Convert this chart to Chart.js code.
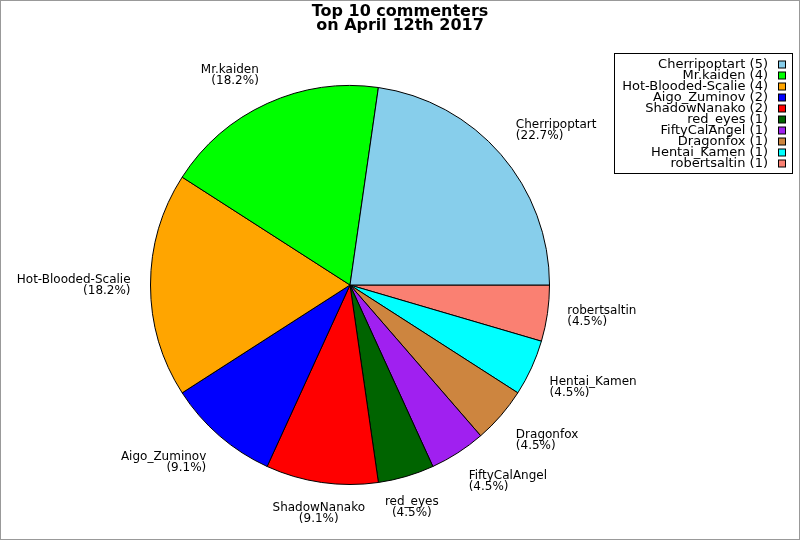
<!DOCTYPE html>
<html>
<head>
<meta charset="utf-8">
<script src="https://cdn.jsdelivr.net/npm/chart.js@4"></script>
<style>
html,body{margin:0;padding:0;background:#fff;overflow:hidden;}
canvas{display:block;}
</style>
</head>
<body>
<canvas id="pie" width="800" height="540"></canvas>
<script>
// data
const names = ["Cherripoptart","Mr.kaiden","Hot-Blooded-Scalie","Aigo_Zuminov","ShadowNanako","red_eyes","FiftyCalAngel","Dragonfox","Hentai_Kamen","robertsaltin"];
const counts = [5,4,4,2,2,1,1,1,1,1];
const colours = ["#87ceeb","#00ff00","#ffa500","#0000ff","#ff0000","#006400","#a020f0","#cd853f","#00ffff","#fa8072"];
const titleLines = ["Top 10 commenters","on April 12th 2017"];

const total = counts.reduce((a,b)=>a+b,0);

// the picture runs counter-clockwise from 3 o'clock, chart.js goes clockwise,
// so feed the slices in reverse and start at 3 o'clock
const revNames = names.slice().reverse();
const revCounts = counts.slice().reverse();
const revColours = colours.slice().reverse();

const FONT = "'DejaVu Sans', Verdana, sans-serif";

/* title, slice labels, legend box, frame */
const decor = {
id:"decor",
afterDatasetsDraw(chart){
const ctx = chart.ctx;
ctx.save();

// title
ctx.fillStyle="#000";
ctx.font="bold 16px "+FONT;
ctx.textAlign="center";
ctx.textBaseline="alphabetic";
ctx.fillText(titleLines[0],400,16);
ctx.fillText(titleLines[1],400,30);

// slice labels
ctx.font="12px "+FONT;
const meta = chart.getDatasetMeta(0);
meta.data.forEach((arc,i)=>{
const mid=(arc.startAngle+arc.endAngle)/2;
const r=arc.outerRadius*1.1;
const ax=arc.x+r*Math.cos(mid);
const ay=arc.y+r*Math.sin(mid);
const c=Math.cos(mid), s=Math.sin(mid);
ctx.textAlign = c>0.3 ? "left" : (c<-0.3 ? "right" : "center");
const lh=11;
let top;
if(s<-0.3) top=ay-2*lh;
else if(s>0.3) top=ay;
else top=ay-lh;
const pct=(revCounts[i]/total*100).toFixed(1)+"%";
ctx.textBaseline="middle";
ctx.fillText(revNames[i],ax,top+lh/2+0.5);
ctx.fillText("("+pct+")",ax,top+lh*1.5+0.5);
});

// legend
ctx.strokeStyle="#000";
ctx.lineWidth=1;
ctx.strokeRect(614.5,53.5,178,120);
ctx.font="13px "+FONT;
ctx.textAlign="right";
ctx.textBaseline="middle";
names.forEach((n,i)=>{
const y=64.5+i*11;
ctx.fillStyle="#000";
ctx.fillText(n+" ("+counts[i]+")",768,y+0.5);
ctx.fillStyle=colours[i];
ctx.fillRect(778.5,y-3.5,7,7);
ctx.strokeRect(778.5,y-3.5,7,7);
});

// frame
ctx.strokeStyle="#999";
ctx.strokeRect(0.5,0.5,799,539);
ctx.restore();
}
};

new Chart(document.getElementById("pie"),{
type:"pie",
data:{
labels:revNames,
datasets:[{
data:revCounts,
backgroundColor:revColours,
borderColor:"#000",
borderWidth:1,
hoverOffset:0
}]
},
options:{
responsive:false,
animation:false,
devicePixelRatio:1,
rotation:90,
layout:{padding:{left:150,right:250,top:85,bottom:55}},
plugins:{
legend:{display:false},
title:{display:false},
tooltip:{enabled:false}
}
},
plugins:[decor]
});
</script>
</body>
</html>
